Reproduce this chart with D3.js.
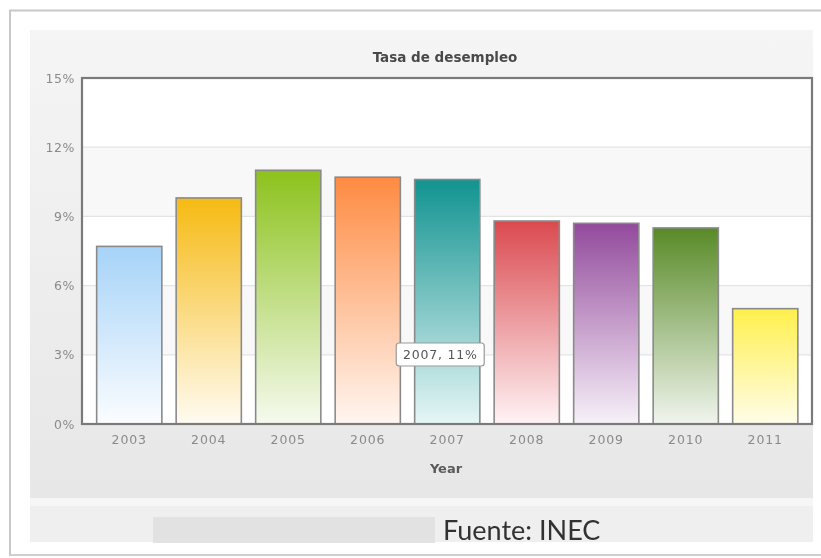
<!DOCTYPE html>
<html>
<head>
<meta charset="utf-8">
<script src="https://cdn.jsdelivr.net/npm/d3@7"></script>
<style>
  html, body { margin: 0; padding: 0; background: #ffffff; }
  svg { display: block; }
</style>
</head>
<body>
<svg id="chart" width="821" height="558"></svg>
<script>
// Unemployment rate by year (%)
const years = ["2003", "2004", "2005", "2006", "2007", "2008", "2009", "2010", "2011"];
const rates = [7.7, 9.8, 11.0, 10.7, 10.6, 8.8, 8.7, 8.5, 5.0];
const topColors = ["#a6d3f8", "#f6ba12", "#8cc21c", "#fe8b42", "#119390", "#da4a4f", "#934a9c", "#588a27", "#fff04c"];
const bottomColors = ["#fbfdff", "#fffbf2", "#f6faef", "#fff6f1", "#e6f6f6", "#fff3f5", "#f7f1f9", "#f1f5ee", "#fffde9"];
const yTicks = [0, 3, 6, 9, 12, 15];
const tooltipIndex = 4;

const svg = d3.select("#chart");
const defs = svg.append("defs");

const soft = defs.append("filter").attr("id", "soft")
  .attr("filterUnits", "userSpaceOnUse")
  .attr("x", 0).attr("y", 0).attr("width", 821).attr("height", 558);
soft.append("feGaussianBlur").attr("stdDeviation", 0.55);

const panelGrad = defs.append("linearGradient").attr("id", "panelGrad")
  .attr("x1", 0).attr("y1", 0).attr("x2", 0).attr("y2", 1);
panelGrad.append("stop").attr("offset", 0).attr("stop-color", "#f5f5f5");
panelGrad.append("stop").attr("offset", 1).attr("stop-color", "#e7e7e7");

years.forEach((y, i) => {
  const g = defs.append("linearGradient").attr("id", "bar" + i)
    .attr("x1", 0).attr("y1", 0).attr("x2", 0).attr("y2", 1);
  g.append("stop").attr("offset", 0).attr("stop-color", topColors[i]);
  g.append("stop").attr("offset", 1).attr("stop-color", bottomColors[i]);
});

const root = svg.append("g").attr("filter", "url(#soft)");

// outer frame and background panels
root.append("path")
  .attr("d", "M10,556 L10,10.5 L821,10.5")
  .attr("fill", "none").attr("stroke", "#c8c8c8").attr("stroke-width", 2);
root.append("path")
  .attr("d", "M10,555 L821,555")
  .attr("fill", "none").attr("stroke", "#cfcfcf").attr("stroke-width", 2);
root.append("rect").attr("x", 30).attr("y", 30).attr("width", 783).attr("height", 468)
  .attr("fill", "url(#panelGrad)");
root.append("rect").attr("x", 30).attr("y", 498).attr("width", 783).attr("height", 8)
  .attr("fill", "#f6f6f6");
root.append("rect").attr("x", 30).attr("y", 506).attr("width", 783).attr("height", 36)
  .attr("fill", "#efefef");
root.append("rect").attr("x", 153).attr("y", 517).attr("width", 282).attr("height", 26)
  .attr("fill", "#e2e2e2");

const plot = { left: 82, top: 78, right: 812, bottom: 424 };

const x = d3.scaleBand()
  .domain(years)
  .range([89.5, 805])
  .paddingInner(0.18)
  .paddingOuter(0.09);

const y = d3.scaleLinear()
  .domain([0, 15])
  .range([plot.bottom, plot.top]);

// plot background with alternating bands
root.append("rect")
  .attr("x", plot.left).attr("y", plot.top)
  .attr("width", plot.right - plot.left).attr("height", plot.bottom - plot.top)
  .attr("fill", "#ffffff");
root.selectAll("rect.band")
  .data([[3, 6], [9, 12]])
  .join("rect")
  .attr("class", "band")
  .attr("x", plot.left).attr("width", plot.right - plot.left)
  .attr("y", d => y(d[1])).attr("height", d => y(d[0]) - y(d[1]))
  .attr("fill", "#f8f8f8");

// horizontal grid lines
root.selectAll("line.grid")
  .data(yTicks.slice(1, -1))
  .join("line")
  .attr("class", "grid")
  .attr("x1", plot.left).attr("x2", plot.right)
  .attr("y1", d => y(d)).attr("y2", d => y(d))
  .attr("stroke", "#e4e4e4").attr("stroke-width", 1.2);

// bars
root.selectAll("rect.bar")
  .data(rates)
  .join("rect")
  .attr("class", "bar")
  .attr("x", (d, i) => x(years[i]))
  .attr("width", x.bandwidth())
  .attr("y", d => y(d))
  .attr("height", d => y(0) - y(d))
  .attr("fill", (d, i) => `url(#bar${i})`)
  .attr("stroke", "#8a8a8a")
  .attr("stroke-width", 1.6);

// plot frame
root.append("rect")
  .attr("x", plot.left).attr("y", plot.top)
  .attr("width", plot.right - plot.left).attr("height", plot.bottom - plot.top)
  .attr("fill", "none").attr("stroke", "#7a7a7a").attr("stroke-width", 2.2);

// y axis
const yAxis = d3.axisLeft(y)
  .tickValues(yTicks)
  .tickFormat(d => d + "%")
  .tickSize(0)
  .tickPadding(7);
const yg = root.append("g").attr("transform", `translate(${plot.left},0)`).call(yAxis);
yg.select(".domain").remove();
yg.selectAll("text")
  .attr("font-family", "DejaVu Sans, sans-serif")
  .attr("font-size", 12.5)
  .attr("letter-spacing", 0.6)
  .attr("fill", "#8a8a8a");

// x axis
const xAxis = d3.axisBottom(x).tickSize(0).tickPadding(11);
const xg = root.append("g").attr("transform", `translate(0,${plot.bottom})`).call(xAxis);
xg.select(".domain").remove();
xg.selectAll("text")
  .attr("font-family", "DejaVu Sans, sans-serif")
  .attr("font-size", 12.5)
  .attr("letter-spacing", 0.9)
  .attr("fill", "#8a8a8a");

// titles
root.append("text")
  .attr("x", (plot.left + plot.right) / 2 - 2).attr("y", 62)
  .attr("text-anchor", "middle")
  .attr("font-family", "DejaVu Sans, sans-serif")
  .attr("font-weight", "bold")
  .attr("font-size", 13.5)
  .attr("fill", "#4a4a4a")
  .text("Tasa de desempleo");

root.append("text")
  .attr("x", (plot.left + plot.right) / 2 - 1).attr("y", 473)
  .attr("text-anchor", "middle")
  .attr("font-family", "DejaVu Sans, sans-serif")
  .attr("font-weight", "bold")
  .attr("font-size", 13)
  .attr("fill", "#5a5a5a")
  .text("Year");

// hover tooltip on the 2007 bar
const fmt = d3.format(".0f");
const tipText = `${years[tooltipIndex]}, ${fmt(rates[tooltipIndex])}%`;
const tipCx = x(years[tooltipIndex]) + x.bandwidth() / 2 - 7;
const tip = root.append("g").attr("transform", `translate(${tipCx},354.5)`);
tip.append("rect")
  .attr("x", -44).attr("y", -11.5).attr("width", 88).attr("height", 23)
  .attr("rx", 3)
  .attr("fill", "#ffffff").attr("stroke", "#9a9a9a").attr("stroke-width", 1.2);
tip.append("text")
  .attr("text-anchor", "middle").attr("dy", "0.36em")
  .attr("font-family", "DejaVu Sans, sans-serif")
  .attr("font-size", 12.5)
  .attr("letter-spacing", 0.8)
  .attr("fill", "#555555")
  .text(tipText);

// source note
root.append("text")
  .attr("x", 443).attr("y", 540)
  .attr("font-family", "Lato, 'Open Sans', sans-serif")
  .attr("font-size", 27)
  .attr("fill", "#333333")
  .text("Fuente: INEC");
</script>
</body>
</html>
